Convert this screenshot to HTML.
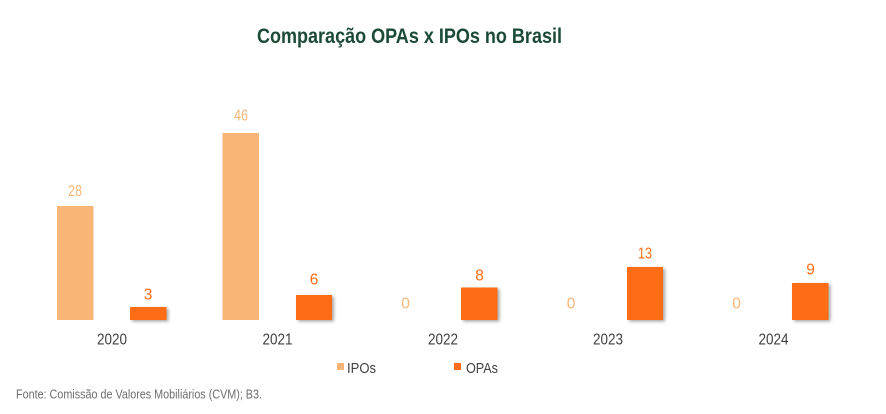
<!DOCTYPE html>
<html><head><meta charset="utf-8"><style>
html,body{margin:0;padding:0;background:#fff;}
svg{display:block;}
text{font-family:"Liberation Sans",sans-serif;}
</style></head><body>
<svg width="886" height="414" viewBox="0 0 886 414" xmlns="http://www.w3.org/2000/svg">
<defs>
<filter id="sh" x="-20%" y="-20%" width="150%" height="150%">
<feGaussianBlur in="SourceAlpha" stdDeviation="1.5"/>
<feOffset dx="2" dy="1.5" result="b"/>
<feComponentTransfer><feFuncA type="linear" slope="0.35"/></feComponentTransfer>
<feMerge><feMergeNode/><feMergeNode in="SourceGraphic"/></feMerge>
</filter>
</defs>
<rect width="886" height="414" fill="#fff"/>
<text x="257" y="43" font-size="21" font-weight="bold" fill="#1B4A37" textLength="305" lengthAdjust="spacingAndGlyphs">Comparação OPAs x IPOs no Brasil</text>

<!-- IPO bars -->
<rect x="57" y="206" width="36.5" height="114" fill="#F7B677"/>
<rect x="222.5" y="133" width="36.5" height="187" fill="#F7B677"/>

<!-- OPA bars -->
<g filter="url(#sh)" fill="#FF6C17">
<rect x="130" y="307" width="36.5" height="13"/>
<rect x="296" y="295" width="36" height="25"/>
<rect x="461" y="287.5" width="36.5" height="32.5"/>
<rect x="627" y="267" width="36" height="53"/>
<rect x="792" y="283" width="36.5" height="37"/>
</g>

<!-- value labels IPO -->
<g font-size="15.5" fill="#F7B677" text-anchor="middle">
<text x="75" y="196" textLength="14" lengthAdjust="spacingAndGlyphs">28</text>
<text x="241" y="120.5" textLength="14" lengthAdjust="spacingAndGlyphs">46</text>
<text x="405.5" y="308.5">0</text>
<text x="571" y="308.5">0</text>
<text x="736.5" y="308.5">0</text>
</g>
<g font-size="15.5" fill="#FF6C17" text-anchor="middle">
<text x="148" y="299.5">3</text>
<text x="314" y="284.5">6</text>
<text x="479.5" y="280.5">8</text>
<text x="645" y="258.5" textLength="14" lengthAdjust="spacingAndGlyphs">13</text>
<text x="810.5" y="274.5">9</text>
</g>

<!-- year labels -->
<g font-size="16" fill="#404040" text-anchor="middle">
<text x="112" y="344.5" textLength="30" lengthAdjust="spacingAndGlyphs">2020</text>
<text x="277.5" y="344.5" textLength="30" lengthAdjust="spacingAndGlyphs">2021</text>
<text x="443" y="344.5" textLength="30" lengthAdjust="spacingAndGlyphs">2022</text>
<text x="608" y="344.5" textLength="30" lengthAdjust="spacingAndGlyphs">2023</text>
<text x="773.5" y="344.5" textLength="30" lengthAdjust="spacingAndGlyphs">2024</text>
</g>

<!-- legend -->
<rect x="337" y="363" width="7" height="7" fill="#F7B677"/>
<text x="347" y="373" font-size="15" fill="#404040" textLength="29" lengthAdjust="spacingAndGlyphs">IPOs</text>
<rect x="454" y="363" width="7" height="7" fill="#FF6C17"/>
<text x="466" y="373" font-size="15" fill="#404040" textLength="32" lengthAdjust="spacingAndGlyphs">OPAs</text>

<!-- footer -->
<text x="16" y="398.5" font-size="12.5" fill="#6E6E6E" textLength="246" lengthAdjust="spacingAndGlyphs">Fonte: Comissão de Valores Mobiliários (CVM); B3.</text>
</svg>
</body></html>
